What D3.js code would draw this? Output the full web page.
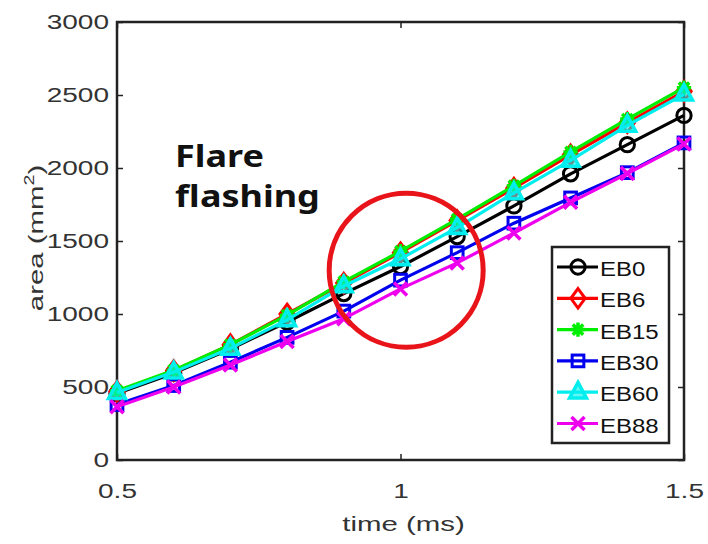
<!DOCTYPE html>
<html>
<head>
<meta charset="utf-8">
<script src="https://cdn.jsdelivr.net/npm/d3@7"></script>
<style>
  html, body { margin: 0; padding: 0; background: #fff; }
  svg { display: block; }
  text { font-family: "Liberation Sans", Arial, sans-serif; }
</style>
</head>
<body>
<svg id="chart" width="708" height="544"></svg>
<script>
// Sampling times (ms)
const times = [0.5, 0.6, 0.7, 0.8, 0.9, 1.0, 1.1, 1.2, 1.3, 1.4, 1.5];

// Flame area (mm^2) per fuel blend
const eb0  = [455, 595, 760, 945, 1140, 1325, 1530, 1740, 1960, 2160, 2360];
const eb6  = [470, 612, 790, 1000, 1212, 1420, 1640, 1862, 2090, 2310, 2525];
const eb15 = [475, 615, 790, 992, 1222, 1430, 1650, 1878, 2110, 2335, 2550];
const eb30 = [380, 510, 670, 840, 1020, 1232, 1420, 1622, 1795, 1968, 2172];
const eb60 = [462, 602, 765, 960, 1192, 1378, 1592, 1830, 2052, 2292, 2505];
const eb88 = [365, 500, 650, 812, 968, 1172, 1350, 1555, 1765, 1962, 2165];

const seriesNames = ["EB0", "EB6", "EB15", "EB30", "EB60", "EB88"];
const seriesValues = [eb0, eb6, eb15, eb30, eb60, eb88];
const seriesColors = ["#000000", "#ff0000", "#00ee00", "#0000ee", "#00eeee", "#ee00ee"];
const seriesMarkers = ["circle", "diamond", "asterisk", "square", "triangle", "cross"];

const xTicks = [0.5, 1, 1.5];
const yTicks = [0, 500, 1000, 1500, 2000, 2500, 3000];

const svg = d3.select("#chart");
const plot = { left: 117, right: 684, top: 22, bottom: 460 };

const x = d3.scaleLinear().domain([0.5, 1.5]).range([plot.left, plot.right]);
const y = d3.scaleLinear().domain([0, 3000]).range([plot.bottom, plot.top]);

// Widen glyphs horizontally by a factor
function widen(sel, factor) {
  sel.each(function () {
    const w = this.getComputedTextLength();
    d3.select(this).attr("textLength", w * factor).attr("lengthAdjust", "spacingAndGlyphs");
  });
}

// Inward ticks on all four sides, box style
const tickLen = 6;
const axisFont = 20;
const axisInk = "#333";

const gx = svg.append("g").attr("transform", `translate(0,${plot.bottom})`)
  .call(d3.axisBottom(x).tickValues(xTicks).tickFormat(d3.format("")).tickSizeInner(-tickLen).tickSizeOuter(0).tickPadding(24));
const gxTop = svg.append("g").attr("transform", `translate(0,${plot.top})`)
  .call(d3.axisTop(x).tickValues(xTicks).tickFormat("").tickSizeInner(-tickLen).tickSizeOuter(0));
const gy = svg.append("g").attr("transform", `translate(${plot.left},0)`)
  .call(d3.axisLeft(y).tickValues(yTicks).tickFormat(d3.format("d")).tickSizeInner(-tickLen).tickSizeOuter(0).tickPadding(8));
const gyRight = svg.append("g").attr("transform", `translate(${plot.right},0)`)
  .call(d3.axisRight(y).tickValues(yTicks).tickFormat("").tickSizeInner(-tickLen).tickSizeOuter(0));

[gx, gxTop, gy, gyRight].forEach(g => {
  g.select(".domain").remove();
  g.selectAll(".tick line").attr("stroke", "#222").attr("stroke-width", 1.5);
  g.selectAll(".tick text")
    .attr("fill", axisInk)
    .style("font-size", axisFont + "px")
    .style("font-family", "'Liberation Sans', Arial, sans-serif");
});
widen(gx.selectAll(".tick text"), 1.4);
widen(gy.selectAll(".tick text"), 1.4);

// Frame
svg.append("rect")
  .attr("x", plot.left).attr("y", plot.top)
  .attr("width", plot.right - plot.left).attr("height", plot.bottom - plot.top)
  .attr("fill", "none").attr("stroke", "#222").attr("stroke-width", 2.5);

// Axis titles
const xTitle = svg.append("text")
  .attr("x", (plot.left + plot.right) / 2 + 3).attr("y", 531)
  .attr("text-anchor", "middle")
  .attr("fill", axisInk)
  .style("font-size", "21px")
  .text("time (ms)");
widen(xTitle, 1.4);

const yTitle = svg.append("text")
  .attr("transform", `translate(43,238) rotate(-90) scale(1.4,1)`)
  .attr("text-anchor", "middle")
  .attr("fill", axisInk)
  .style("font-size", "21px");
yTitle.append("tspan").text("area (mm");
yTitle.append("tspan").attr("dy", -9).style("font-size", "14px").text("2");
yTitle.append("tspan").attr("dy", 9).text(")");

// Marker drawing
function drawMarker(g, type, color, size) {
  const s = size;
  switch (type) {
    case "circle":
      g.append("circle").attr("r", s * 0.55).attr("fill", "none").attr("stroke", color).attr("stroke-width", 3);
      break;
    case "diamond":
      g.append("path").attr("d", `M0,${-s * 0.75}L${s * 0.55},0L0,${s * 0.75}L${-s * 0.55},0Z`)
        .attr("fill", "none").attr("stroke", color).attr("stroke-width", 3);
      break;
    case "asterisk":
      g.append("path").attr("d",
        `M${-s * 0.55},0L${s * 0.55},0M0,${-s * 0.55}L0,${s * 0.55}` +
        `M${-s * 0.4},${-s * 0.4}L${s * 0.4},${s * 0.4}M${-s * 0.4},${s * 0.4}L${s * 0.4},${-s * 0.4}`)
        .attr("fill", "none").attr("stroke", color).attr("stroke-width", 3.5);
      break;
    case "square":
      g.append("rect").attr("x", -s * 0.45).attr("y", -s * 0.45).attr("width", s * 0.9).attr("height", s * 0.9)
        .attr("fill", "none").attr("stroke", color).attr("stroke-width", 3);
      break;
    case "triangle":
      g.append("path").attr("d", `M0,${-s * 0.75}L${s * 0.65},${s * 0.45}L${-s * 0.65},${s * 0.45}Z`)
        .attr("fill", color).attr("fill-opacity", 0.6).attr("stroke", color).attr("stroke-width", 3.5);
      break;
    case "cross":
      g.append("path").attr("d", `M${-s * 0.5},${-s * 0.5}L${s * 0.5},${s * 0.5}M${-s * 0.5},${s * 0.5}L${s * 0.5},${-s * 0.5}`)
        .attr("fill", "none").attr("stroke", color).attr("stroke-width", 3.5);
      break;
  }
}

const line = d3.line().x((d, i) => x(times[i])).y(d => y(d));
const markerSize = 13;

seriesValues.forEach((vals, si) => {
  const color = seriesColors[si];
  const g = svg.append("g");
  g.append("path").datum(vals).attr("d", line)
    .attr("fill", "none").attr("stroke", color).attr("stroke-width", 3.2).attr("stroke-linejoin", "round");
  vals.forEach((v, i) => {
    const m = g.append("g").attr("transform", `translate(${x(times[i])},${y(v)})`);
    drawMarker(m, seriesMarkers[si], color, markerSize);
  });
});

// Annotation: circled region and label
svg.append("ellipse")
  .attr("cx", x(1.01)).attr("cy", y(1300)).attr("rx", 77).attr("ry", 77)
  .attr("fill", "none").attr("stroke", "#e8141a").attr("stroke-width", 5);

const noteStyle = t => t.attr("fill", "#111")
  .style("font-family", "'Noto Sans', 'Open Sans', sans-serif")
  .style("font-weight", "bold")
  .style("font-size", "30px");
const note1 = svg.append("text").attr("x", 175).attr("y", 167).call(noteStyle).text("Flare");
const note2 = svg.append("text").attr("x", 175).attr("y", 207).call(noteStyle).text("flashing");
widen(note1, 1.2);
widen(note2, 1.2);

// Legend
const legend = svg.append("g");
legend.append("rect")
  .attr("x", 552).attr("y", 247).attr("width", 117).attr("height", 196)
  .attr("fill", "#fff").attr("stroke", "#222").attr("stroke-width", 2.5);
seriesNames.forEach((name, i) => {
  const cy = 267 + i * 31.3;
  const color = seriesColors[i];
  legend.append("line").attr("x1", 557).attr("x2", 598).attr("y1", cy).attr("y2", cy)
    .attr("stroke", color).attr("stroke-width", 3.2);
  const m = legend.append("g").attr("transform", `translate(578,${cy})`);
  drawMarker(m, seriesMarkers[i], color, markerSize);
  const t = legend.append("text").attr("x", 600).attr("y", cy + 9)
    .attr("fill", "#111").style("font-size", "20px").text(name);
  widen(t, 1.2);
});
</script>
</body>
</html>
